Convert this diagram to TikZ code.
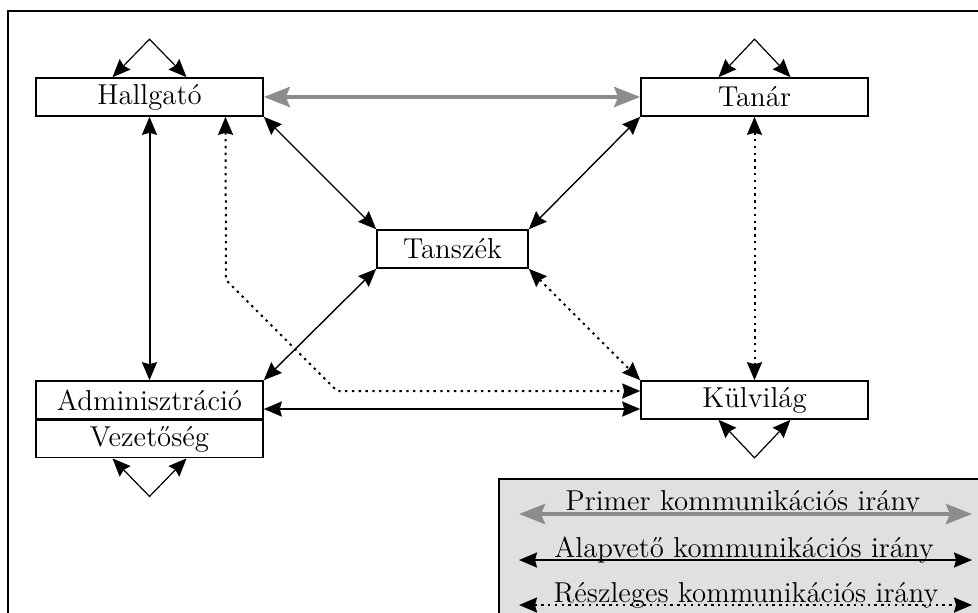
\documentclass[tikz,border=0pt]{standalone}
\usepackage{fontspec}
\usetikzlibrary{arrows.meta}
\definecolor{primgray}{gray}{0.55}
\definecolor{legendfill}{gray}{0.88}
\begin{document}
\begin{tikzpicture}[x=0.5pt,y=-0.5pt,
block/.style={
% The shape:
rectangle,
draw=black,
line width=0.8pt,
minimum width=113.5pt,
minimum height=19pt,
inner sep=0pt,
font=\fontsize{14.4}{16}\selectfont
},
legendtext/.style={anchor=base,inner sep=0pt,font=\fontsize{14.4}{16}\selectfont},
primary/.style={
draw=primgray,line width=2pt,
{Stealth[length=13pt,width=10pt,inset=2pt]}-{Stealth[length=13pt,width=10pt,inset=2pt]}
},
basic/.style={
draw=black,line width=0.7pt,
{Stealth[length=9pt,width=7.5pt,inset=1pt]}-{Stealth[length=9pt,width=7.5pt,inset=1pt]}
},
partial/.style={basic,line width=1pt,dash pattern=on 1.2pt off 2.2pt}
]
\useasboundingbox (0,0) rectangle (978,612);
\draw[line width=0.8pt] (8,11) rectangle (990,630);
% Legend:
\draw[line width=0.8pt,fill=legendfill] (499,479) rectangle (990,630);
% Boxes:
\node (hallg) [block] at (149.5,97) {Hallgató};
\node (tanar) [block] at (754.5,97) {Tanár};
\node (tansz) [block,minimum width=75.5pt] at (452.5,249) {Tanszék};
\node (admin) [block] at (149.5,400) {Adminisztráció};
\node (vezet) [block,minimum height=18.5pt,anchor=north] at (admin.south) {Vezetőség};
\node (kulv) [block] at (754.5,400) {Külvilág};
\path (hallg) edge[primary] (tanar)
 (hallg.south) edge[basic,line width=1pt] (admin.north)
 (hallg.south east) edge[basic] (tansz.north west)
 (tanar.south west) edge[basic] (tansz.north east)
 (tansz.south west) edge[basic] (admin.north east)
 (tansz.south east) edge[partial] (kulv.north west)
 (tanar.south) edge[partial] (kulv.north)
 ([yshift=-4.5pt]admin.east) edge[basic,line width=1pt] ([yshift=-4.5pt]kulv.west);
\coordinate (bend1) at (226,280);
\coordinate (bend2) at (337,391);
\draw[partial] ([xshift=38pt]hallg.south) -- (bend1) -- (bend2) -- ([yshift=4.5pt]kulv.west);
% Self loops:
\draw[basic,line width=0.6pt] ([xshift=-18.5pt]hallg.north) -- ([yshift=19pt]hallg.north) -- ([xshift=18.5pt]hallg.north);
\draw[basic,line width=0.6pt] ([xshift=-18pt]tanar.north) -- ([yshift=19pt]tanar.north) -- ([xshift=18pt]tanar.north);
\draw[basic,line width=0.6pt] ([xshift=-18.5pt]vezet.south) -- ([yshift=-19pt]vezet.south) -- ([xshift=18.5pt]vezet.south);
\draw[basic,line width=0.6pt] ([xshift=-18pt]kulv.south) -- ([yshift=-19pt]kulv.south) -- ([xshift=18pt]kulv.south);
% Legend rows:
\node (lprim) [legendtext] at (743,510) {Primer kommunikációs irány};
\node (lalap) [legendtext] at (744,557) {Alapvető kommunikációs irány};
\node (lresz) [legendtext] at (746,602) {Részleges kommunikációs irány};
\coordinate (lprimA) at (519,514);
\coordinate (lprimB) at (972,514);
\coordinate (lalapA) at (519,560);
\coordinate (lalapB) at (972,560);
\coordinate (lreszA) at (519,605);
\coordinate (lreszB) at (972,605);
\draw[primary] (lprimA) -- (lprimB);
\draw[basic,line width=0.9pt] (lalapA) -- (lalapB);
\draw[partial] (lreszA) -- (lreszB);
\end{tikzpicture}
\end{document}
